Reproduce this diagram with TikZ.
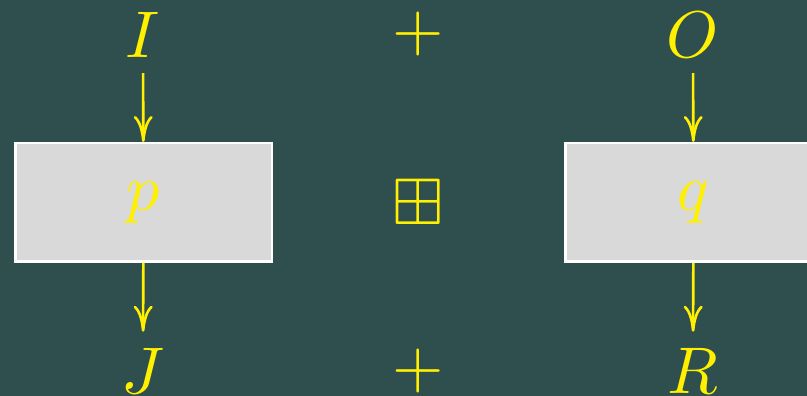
\documentclass[tikz,border=0pt]{standalone}
\usepackage{graphicx}
\usepackage{amssymb}
\usetikzlibrary{arrows.meta}
\definecolor{bgc}{RGB}{47,79,79}
\definecolor{boxc}{RGB}{217,217,217}
\definecolor{ink}{RGB}{255,240,0}
\newcommand\bigsym[1]{\scalebox{6.6}{$#1$}}
\tikzset{
  lbl/.style={text=ink, inner sep=0pt, minimum height=77pt},
  proc/.style={draw=white, line width=2.5pt, fill=boxc, minimum width=256.5pt, minimum height=118.5pt, text=ink},
  arr/.style={draw=ink, line width=2.6pt, -{To[length=26pt,width=19pt]}}
}
\begin{document}
\begin{tikzpicture}[x=1pt,y=1pt]
\useasboundingbox (0,0) rectangle (807,396);
\clip (0,0) rectangle (807,396);
\fill[bgc] (0,0) rectangle (807,396);
\node[lbl] (I) at (143,361.5) {\bigsym{I}};
\node[lbl] (plusT) at (418,361.5) {\bigsym{+}};
\node[lbl] (O) at (693,361.5) {\bigsym{O}};
\node[proc] (p) at (143.5,193.5) {\bigsym{p}};
\node[lbl, minimum height=0pt] (bp) at (418,194) {\bigsym{\boxplus}};
\node[proc] (q) at (693.5,193.5) {\bigsym{q}};
\node[lbl] (J) at (143,25.5) {\bigsym{J}};
\node[lbl] (plusB) at (418,25.5) {\bigsym{+}};
\node[lbl] (R) at (693,25.5) {\bigsym{R}};
\draw[arr] (I) -- (p);
\draw[arr] (O) -- (q);
\draw[arr] (p) -- (J);
\draw[arr] (q) -- (R);
\end{tikzpicture}
\end{document}
